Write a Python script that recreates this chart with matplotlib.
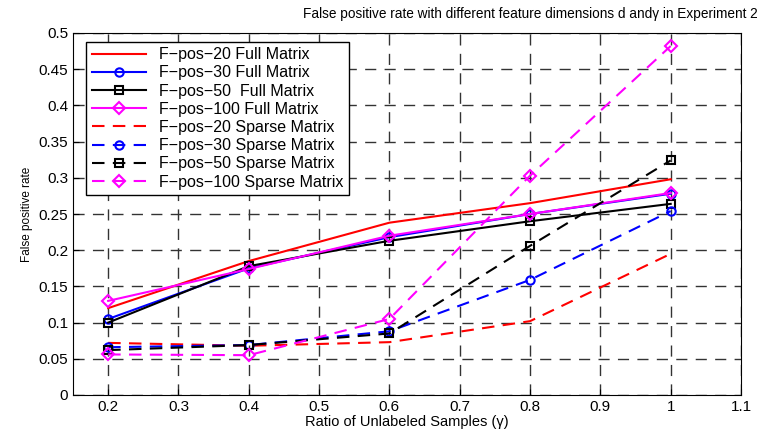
import matplotlib
matplotlib.use('Agg')
import matplotlib.pyplot as plt

plt.rcParams['font.family'] = ['Liberation Sans', 'DejaVu Sans']

ratio = [0.2, 0.4, 0.6, 0.8, 1.0]

full_20 = [0.120, 0.185, 0.238, 0.265, 0.298]
full_30 = [0.105, 0.175, 0.218, 0.250, 0.278]
full_50 = [0.100, 0.178, 0.213, 0.240, 0.264]
full_100 = [0.130, 0.174, 0.220, 0.250, 0.279]

sparse_20 = [0.072, 0.068, 0.073, 0.102, 0.195]
sparse_30 = [0.066, 0.069, 0.088, 0.159, 0.254]
sparse_50 = [0.062, 0.069, 0.085, 0.206, 0.324]
sparse_100 = [0.056, 0.055, 0.105, 0.303, 0.482]

fig = plt.figure(figsize=(7.63, 4.34), dpi=100)
ax = fig.add_axes([73 / 763, 1 - 395 / 434, (741 - 73) / 763, (395 - 33) / 434])

mk = dict(markersize=6, markerfacecolor='none', markeredgewidth=1.5)
ax.plot(ratio, full_20, '-', color='red', lw=1.5, label='F\u2212pos\u221220 Full Matrix')
ax.plot(ratio, full_30, '-', color='blue', lw=1.5, marker='o', label='F\u2212pos\u221230 Full Matrix', **mk)
ax.plot(ratio, full_50, '-', color='black', lw=1.5, marker='s', label='F\u2212pos\u221250  Full Matrix', **mk)
ax.plot(ratio, full_100, '-', color='magenta', lw=1.5, marker='D', label='F\u2212pos\u2212100 Full Matrix', **mk)
ax.plot(ratio, sparse_20, '--', color='red', lw=1.5, dashes=(6, 4), label='F\u2212pos\u221220 Sparse Matrix')
ax.plot(ratio, sparse_30, '--', color='blue', lw=1.5, dashes=(6, 4), marker='o', label='F\u2212pos\u221230 Sparse Matrix', **mk)
ax.plot(ratio, sparse_50, '--', color='black', lw=1.5, dashes=(6, 4), marker='s', label='F\u2212pos\u221250 Sparse Matrix', **mk)
ax.plot(ratio, sparse_100, '--', color='magenta', lw=1.5, dashes=(6, 4), marker='D', label='F\u2212pos\u2212100 Sparse Matrix', **mk)

ax.set_xlim(0.15, 1.1)
ax.set_ylim(0, 0.5)
ax.set_xticks([0.2, 0.3, 0.4, 0.5, 0.6, 0.7, 0.8, 0.9, 1.0, 1.1])
ax.set_xticklabels(['0.2', '0.3', '0.4', '0.5', '0.6', '0.7', '0.8', '0.9', '1', '1.1'])
ax.set_yticks([0, 0.05, 0.1, 0.15, 0.2, 0.25, 0.3, 0.35, 0.4, 0.45, 0.5])
ax.set_yticklabels(['0', '0.05', '0.1', '0.15', '0.2', '0.25', '0.3', '0.35', '0.4', '0.45', '0.5'])
ax.tick_params(labelsize=11, direction='in', length=4)
ax.grid(True, color='#333333', linestyle=(0, (8, 6)), lw=1.0)

ax.set_xlabel('Ratio of Unlabeled Samples (\u03b3)', fontsize=10.5, labelpad=1)
ax.set_ylabel('False positive rate', fontsize=8.5)
fig.text(758 / 763, 1 - 14 / 434, 'False positive rate with different feature dimensions d and\u03b3 in Experiment 2',
         fontsize=9.8, ha='right', va='center')

leg = ax.legend(loc='upper left', fontsize=11.5, handlelength=3.4, borderpad=0.35,
                labelspacing=0.2, fancybox=False, edgecolor='black', framealpha=1,
                bbox_to_anchor=(0.008, 0.998))
leg.get_frame().set_linewidth(1.0)

fig.savefig('out.png', dpi=100)
